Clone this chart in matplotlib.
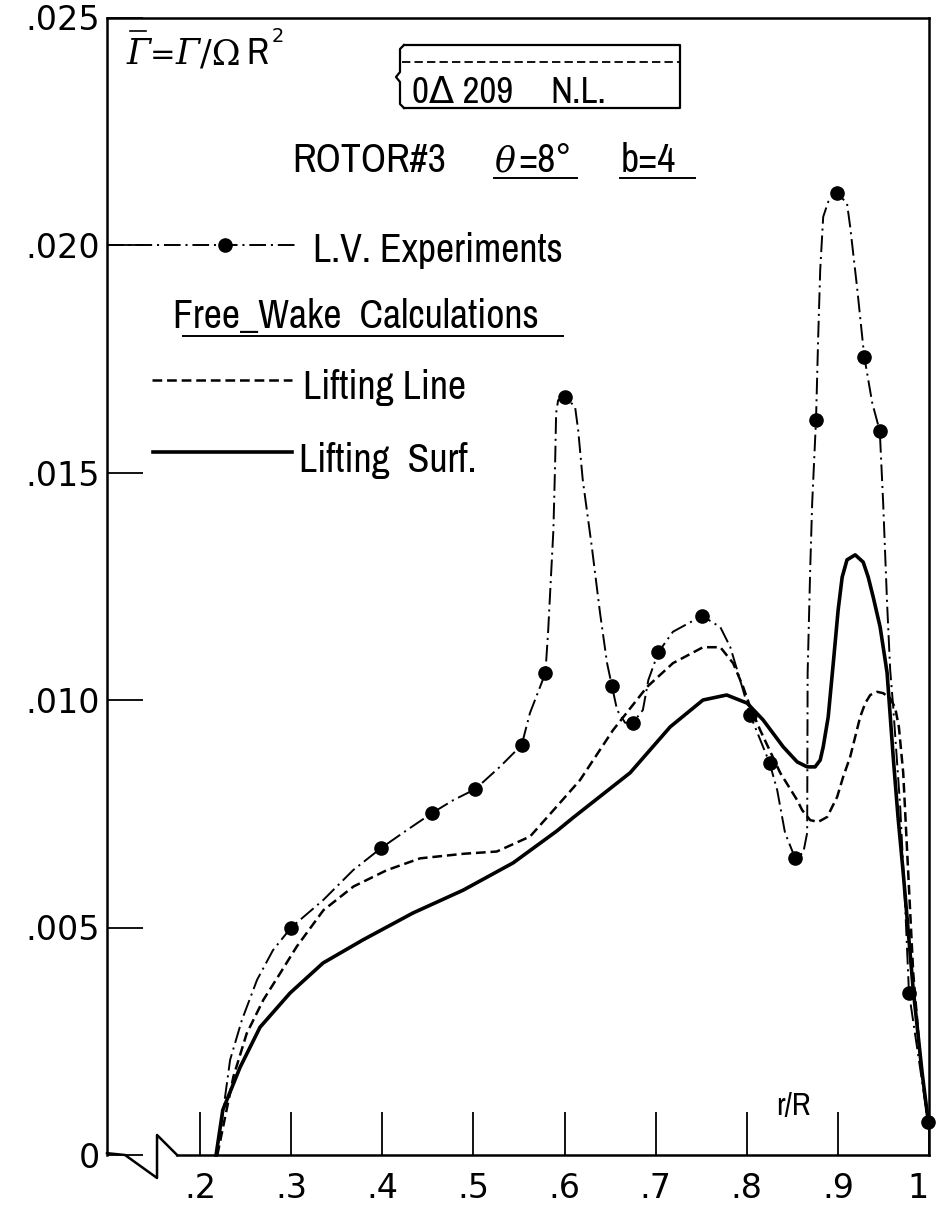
import matplotlib
matplotlib.use('Agg')
import matplotlib.pyplot as plt
from matplotlib import font_manager
from matplotlib.font_manager import FontProperties
from matplotlib.textpath import TextPath
from matplotlib.lines import Line2D

# radial stations r/R and circulation for the three curves
exp_r = [0.300, 0.399, 0.455, 0.502, 0.553, 0.579, 0.601, 0.652, 0.675, 0.703,
         0.751, 0.804, 0.825, 0.853, 0.876, 0.899, 0.929, 0.946, 0.978, 0.999]
exp_g = [0.00500, 0.00675, 0.00752, 0.00804, 0.00901, 0.01059, 0.01666, 0.01031,
         0.00950, 0.01105, 0.01185, 0.00966, 0.00862, 0.00653, 0.01615, 0.02114,
         0.01754, 0.01591, 0.00357, 0.00072]

# faired curve through the experiments
expfit_r = [0.2176, 0.224, 0.233, 0.246, 0.2626, 0.280, 0.300, 0.335, 0.368, 0.399,
            0.427, 0.455, 0.478, 0.502, 0.529, 0.553, 0.562, 0.579, 0.582, 0.5878,
            0.5897, 0.5908, 0.593, 0.601, 0.6116, 0.615, 0.620, 0.630, 0.639, 0.6467,
            0.652, 0.6577, 0.6665, 0.675, 0.686, 0.692, 0.703, 0.719, 0.751, 0.771,
            0.782, 0.7927, 0.804, 0.825, 0.8334, 0.842, 0.853, 0.862, 0.8663, 0.8665,
            0.8668, 0.8696, 0.8718, 0.876, 0.8784, 0.8806, 0.8839, 0.8894, 0.899, 0.910,
            0.9135, 0.921, 0.929, 0.9377, 0.946, 0.9497, 0.954, 0.9574, 0.9607, 0.9684,
            0.9739, 0.978, 0.987, 0.999]
expfit_g = [0.0, 0.00077, 0.00209, 0.00297, 0.00385, 0.00450, 0.00500, 0.00560, 0.00626, 0.00675,
            0.00714, 0.00752, 0.00780, 0.00804, 0.00853, 0.00901, 0.00971, 0.01059, 0.01150, 0.01374,
            0.01521, 0.01631, 0.01659, 0.01666, 0.01644, 0.01593, 0.01484, 0.01336, 0.01191, 0.01081,
            0.01031, 0.00978, 0.00950, 0.00950, 0.00978, 0.01044, 0.01105, 0.01150, 0.01185, 0.01160,
            0.01116, 0.01044, 0.00966, 0.00862, 0.00802, 0.00708, 0.00653, 0.00664, 0.00708, 0.00840,
            0.01059, 0.01286, 0.01433, 0.01615, 0.01798, 0.01945, 0.02062, 0.02095, 0.02114, 0.02092,
            0.02040, 0.01908, 0.01754, 0.01653, 0.01591, 0.01433, 0.01213, 0.01066, 0.00985, 0.00765,
            0.00545, 0.00357, 0.00235, 0.00072]

# free wake, lifting line
ll_r = [0.219, 0.2366, 0.2512, 0.2695, 0.2878, 0.3061, 0.3354, 0.3683, 0.405, 0.4415,
        0.489, 0.5257, 0.5622, 0.5915, 0.617, 0.6533, 0.6907, 0.719, 0.752, 0.771,
        0.785, 0.796, 0.8037, 0.8147, 0.8367, 0.8553, 0.8608, 0.8696, 0.8784, 0.8883,
        0.8992, 0.9058, 0.9135, 0.9245, 0.930, 0.9355, 0.943, 0.9497, 0.9574, 0.963,
        0.967, 0.9717, 0.9772, 0.9827, 0.9904, 0.999]
ll_g = [0.0, 0.00172, 0.00267, 0.00341, 0.00399, 0.00458, 0.00538, 0.00590, 0.00626, 0.00652,
        0.00662, 0.00667, 0.00700, 0.00766, 0.00824, 0.00934, 0.01029, 0.01081, 0.01116, 0.01116,
        0.01081, 0.01029, 0.00985, 0.00934, 0.00840, 0.00780, 0.00758, 0.00736, 0.00732, 0.00743,
        0.00787, 0.00831, 0.00875, 0.00963, 0.00993, 0.01011, 0.01018, 0.01015, 0.01004, 0.00982,
        0.00940, 0.00840, 0.00620, 0.00400, 0.00215, 0.00070]

# free wake, lifting surface
ls_r = [0.2176, 0.225, 0.244, 0.2659, 0.2988, 0.335, 0.379, 0.4338, 0.4887, 0.5436,
        0.5915, 0.6098, 0.672, 0.716, 0.752, 0.778, 0.8005, 0.818, 0.840, 0.8553,
        0.8663, 0.875, 0.8806, 0.8839, 0.8894, 0.8949, 0.9003, 0.9047, 0.910, 0.919,
        0.9278, 0.9333, 0.9388, 0.9464, 0.954, 0.9607, 0.966, 0.9717, 0.9827, 0.9925,
        0.999]
ls_g = [0.0, 0.00099, 0.00193, 0.00281, 0.00356, 0.00422, 0.00473, 0.00532, 0.00582, 0.00642,
        0.00712, 0.00742, 0.00840, 0.00941, 0.01000, 0.01011, 0.00993, 0.00956, 0.00897, 0.00864,
        0.00853, 0.00853, 0.00868, 0.00897, 0.00963, 0.01080, 0.01198, 0.01270, 0.01308, 0.01319,
        0.01303, 0.01270, 0.01226, 0.01160, 0.01060, 0.00875, 0.00743, 0.00620, 0.00363, 0.00180,
        0.00077]

x_ticks = [0.2, 0.3, 0.4, 0.5, 0.6, 0.7, 0.8, 0.9, 1.0]
x_labels = ['.2', '.3', '.4', '.5', '.6', '.7', '.8', '.9', '1']
y_ticks = [0.0, 0.005, 0.010, 0.015, 0.020, 0.025]
y_labels = ['0', '.005', '.010', '.015', '.020', '.025']

# pick a narrow lettering font if one is installed
narrow, stretch = 'DejaVu Sans', 'normal'
for f in font_manager.fontManager.ttflist:
    st = str(f.stretch)
    if 'Narrow' in f.name or 'Condensed' in f.name:
        narrow, stretch = f.name, 'normal'
        break
    if st in ('condensed', 'semi-condensed', 'extra-condensed') and \
            f.name in ('Noto Sans', 'Open Sans', 'Roboto', 'DejaVu Sans', 'Lato', 'Inter'):
        narrow, stretch = f.name, st
FONT = {'family': [narrow, 'DejaVu Sans'], 'stretch': stretch}


def fit(s, w_px, cap_px):
    # font size (pt) so that the text ink has the reference width / cap height
    prop = FontProperties(family=narrow, stretch=stretch)
    w1 = TextPath((0, 0), s, size=1, prop=prop).get_extents().width
    return min(w_px / (w1 * 100 / 72), cap_px / (0.73 * 100 / 72))


plt.rcParams['lines.scale_dashes'] = False

W, H = 936, 1214
fig = plt.figure(figsize=(W / 100, H / 100), dpi=100)
ax = fig.add_axes([107 / W, (H - 1155) / H, (929 - 107) / W, (1155 - 17.5) / H])


def fp(x, y):
    return x / W, 1 - y / H


DASHDOT = (0, (12, 3.5, 1.5, 3.5))
DASHED = (0, (7, 3.5))

ax.plot(expfit_r, expfit_g, color='black', lw=1.4, ls=DASHDOT, clip_on=False)
ax.plot(exp_r, exp_g, 'o', color='black', ms=9.5, clip_on=False, zorder=5)
ax.plot(ll_r, ll_g, color='black', lw=1.8, ls=DASHED, clip_on=False)
ax.plot(ls_r, ls_g, color='black', lw=2.6, clip_on=False)

ax.set_xlim(0.0979, 1.0)
ax.set_ylim(0, 0.025)
ax.set_xticks(x_ticks)
ax.set_xticklabels(x_labels)
ax.set_yticks(y_ticks)
ax.set_yticklabels(y_labels)
ax.get_xticklabels()[-1].set_horizontalalignment('right')
ax.tick_params(axis='x', direction='in', length=31, width=1.3, pad=12, labelsize=24)
ax.tick_params(axis='y', direction='in', length=26, width=1.3, pad=5, labelsize=24)
for s in ax.spines.values():
    s.set_linewidth(1.8)
ax.spines['bottom'].set_bounds(0.1748, 1.0)

# axis break zigzag at the origin
zz_x = [0.0979, 0.1177, 0.1528, 0.1528, 0.1748]
zz_y = [0.00004, 0.0, -0.000505, 0.00044, 0.0]
ax.plot(zz_x, zz_y, color='black', lw=1.8, clip_on=False)


def seg(xs, ys, **kw):
    pts = [fp(x, y) for x, y in zip(xs, ys)]
    fig.add_artist(Line2D([p[0] for p in pts], [p[1] for p in pts],
                          transform=fig.transFigure, color='black', **kw))


def label(x, y, s, w_px, cap_px, size=None):
    if size is None:
        size = fit(s, w_px, cap_px)
    fig.text(*fp(x, y), s, fontsize=size, va='baseline', ha='left', **FONT)


# circulation symbol
serif_it = dict(family='DejaVu Serif', style='italic', fontsize=25, va='baseline')
fig.text(*fp(127, 64), '\u0393', **serif_it)
seg([130, 146], [31, 31], lw=1.2)
fig.text(*fp(150, 64), '=', family='DejaVu Sans', fontsize=22, va='baseline')
fig.text(*fp(176, 64), '\u0393', **serif_it)
fig.text(*fp(200, 64), '/\u03a9', family='DejaVu Serif', fontsize=25, va='baseline')
label(246, 64, 'R', 22, 27)
fig.text(*fp(272, 42), '2', family='DejaVu Sans', fontsize=14, va='baseline')

# airfoil box
box_size = fit('N.L.', 72, 27)
label(412, 103, '0\u0394 209', 0, 0, size=box_size)
label(550, 103, 'N.L.', 0, 0, size=box_size)
seg([404, 680, 680, 404], [45, 45, 108, 108], lw=1.6)
seg([404, 400, 400, 396, 400, 400, 404], [45, 49, 72, 77, 82, 104, 108], lw=1.6)
seg([402, 680], [62, 62], lw=1.3, ls=(0, (6, 3)))

# rotor data
label(292, 172, 'ROTOR#3', 163, 29)
fig.text(*fp(494, 172), '\u03b8', **serif_it)
label(518, 172, '=8\u00b0', 58, 29)
label(621, 172, 'b=4', 72, 29)
seg([494, 577], [178, 178], lw=1.4)
seg([620, 695], [178, 178], lw=1.4)

# legend
seg([107, 297], [245, 245], lw=1.4, ls=DASHDOT)
seg([225], [245], marker='o', ms=9.5, ls='none')
label(313, 262, 'L.V. Experiments', 249, 29)
label(173, 328, 'Free_Wake  Calculations', 397, 29)
seg([183, 563], [336, 336], lw=1.4)
seg([152, 292], [380, 380], lw=1.8, ls=DASHED)
label(303, 399, 'Lifting Line', 184, 29)
seg([153, 292], [452, 452], lw=2.6)
label(299, 472, 'Lifting  Surf.', 196, 29)

label(776, 1115, 'r/R', 59, 23)

fig.savefig('out.png', dpi=100)
